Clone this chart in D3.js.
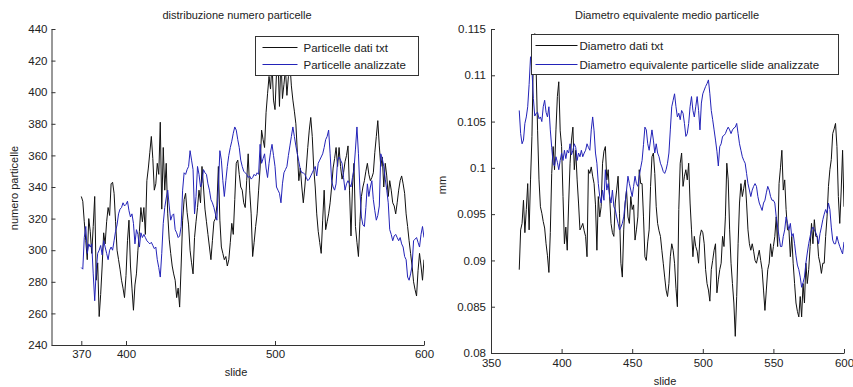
<!DOCTYPE html>
<html>
<head>
<meta charset="utf-8">
<script src="https://cdn.jsdelivr.net/npm/d3@7"></script>
<style>
  body { margin: 0; background: #fff; }
  svg text { font-family: "Liberation Sans", Arial, sans-serif; fill: #222; }
</style>
</head>
<body>
<svg id="fig" width="853" height="387"></svg>
<script>
// Slide numbers shared by every series
const slides = d3.range(370, 601);

// Particle counts per slide
const particelleTxt = [
  334, 331, 318, 306, 294, 320, 312, 298, 315, 334,
  281, 292, 258, 272, 290, 311, 304, 318, 327, 322,
  342, 343, 336, 318, 300, 294, 288, 281, 276, 270,
  284, 306, 319, 290, 276, 262, 278, 285, 300, 312,
  327, 318, 327, 310, 344, 352, 362, 372, 358, 338,
  342, 355, 348, 381, 326, 365, 338, 355, 323, 307,
  298, 290, 285, 281, 270, 276, 264, 290, 319, 332,
  336, 324, 316, 300, 292, 285, 308, 318, 327, 338,
  330, 353, 340, 326, 318, 310, 302, 294, 306, 318,
  320, 328, 353, 319, 302, 298, 294, 296, 290, 294,
  305, 317, 310, 332, 355, 357, 348, 340, 338, 330,
  327, 344, 361, 338, 323, 296, 305, 315, 323, 338,
  352, 376, 370, 365, 387, 399, 410, 402, 418, 395,
  389, 412, 420, 391, 422, 396, 405, 415, 398, 410,
  418, 404, 395, 388, 380, 362, 344, 352, 340, 330,
  340, 352, 365, 376, 384, 372, 352, 340, 323, 312,
  305, 298, 319, 338, 313, 318, 323, 330, 340, 352,
  358, 365, 353, 365, 353, 345, 349, 356, 360, 366,
  338, 309, 340, 355, 315, 305, 296, 318, 334, 340,
  344, 350, 355, 348, 344, 346, 349, 362, 372, 382,
  366, 353, 359, 340, 355, 347, 334, 344, 338, 330,
  328, 323, 330, 338, 344, 347, 342, 336, 323, 315,
  306, 298, 290, 280, 275, 271, 287, 298, 290, 281,
  294
];
const particelleAnalizzate = [
  289, 288, 308, 315, 298, 304, 302, 304, 285, 268,
  287, 298, 300, 303, 297, 306, 302, 298, 294, 300,
  302, 300, 306, 312, 316, 323, 326, 327, 330, 328,
  329, 331, 325, 321, 323, 317, 304, 313, 310, 302,
  311, 308, 310, 308, 306, 305, 304, 305, 303, 301,
  302, 294, 289, 283, 298, 317, 327, 333, 338, 328,
  319, 322, 323, 313, 311, 308, 309, 315, 338, 349,
  348, 351, 353, 363, 357, 351, 323, 334, 353, 348,
  340, 343, 351, 349, 348, 342, 338, 332, 330, 327,
  323, 319, 340, 363, 357, 344, 334, 344, 353, 360,
  365, 369, 374, 378, 376, 370, 365, 357, 353, 350,
  349, 348, 346, 347, 345, 346, 348, 347, 349, 348,
  367, 355, 358, 361, 352, 346, 355, 362, 367, 360,
  353, 340, 338, 336, 330, 342, 349, 351, 353, 360,
  366, 372, 378, 372, 366, 361, 356, 351, 349, 349,
  348, 346, 344, 345, 347, 349, 351, 353, 347, 355,
  357, 359, 361, 365, 370, 372, 376, 361, 344, 340,
  338, 342, 357, 359, 357, 355, 346, 338, 342, 344,
  342, 340, 346, 351, 364, 378, 361, 338, 321, 316,
  315, 327, 342, 334, 340, 344, 332, 325, 319, 322,
  328, 361, 358, 353, 345, 338, 330, 313, 310, 306,
  309, 310, 308, 306, 308, 304, 302, 296, 294, 283,
  281, 285, 290, 306, 307, 308, 305, 302, 310, 315,
  308
];

// Mean equivalent diameter per slide (mm)
const diametroTxt = [
  .0890, .0933, .0940, .0965, .0930, .0955, .0983, .0933, .0987, .1034,
  .1120, .1145, .1105, .1040, .0987, .0958, .0951, .0942, .0935, .0918,
  .0905, .0887, .0930, .0994, .1023, .0998, .1041, .1077, .1093, .1040,
  .1023, .0969, .0918, .0936, .0911, .0962, .1005, .1030, .1044, .0998,
  .1019, .0987, .0962, .0933, .0936, .0940, .0932, .0926, .0904, .0998,
  .0994, .1001, .0991, .0983, .0960, .0911, .0969, .0947, .0958, .1005,
  .1018, .1023, .0987, .0998, .0969, .0940, .0930, .0926, .0962, .0976,
  .0991, .0951, .0897, .0882, .0933, .0962, .0976, .0947, .0940, .0969,
  .0955, .0960, .0922, .0933, .0947, .0998, .0983, .0983, .0947, .0904,
  .0900, .0920, .0933, .0980, .1012, .1016, .0994, .0958, .0940, .0932,
  .0926, .0911, .0897, .0882, .0868, .0861, .0875, .0904, .0918, .0911,
  .0897, .0870, .0850, .0955, .1005, .1016, .0980, .0991, .0998, .0987,
  .1005, .0962, .0933, .0904, .0926, .0915, .0910, .0897, .0926, .0933,
  .0930, .0918, .0890, .0875, .0868, .0856, .0890, .0900, .0911, .0918,
  .0865, .0879, .0890, .0897, .0926, .0915, .0947, .1005, .0987, .0933,
  .0897, .0875, .0854, .0818, .0861, .0918, .0962, .0983, .0969, .0978,
  .0987, .0962, .0933, .0918, .0911, .0918, .0910, .0900, .0897, .0904,
  .0911, .0900, .0890, .0868, .0846, .0868, .0890, .0897, .0918, .0904,
  .0915, .0926, .0947, .0915, .0983, .1000, .1019, .0976, .0987, .0955,
  .0933, .0933, .0904, .0926, .0897, .0875, .0854, .0845, .0839, .0861,
  .0839, .0875, .0854, .0897, .0875, .0890, .0915, .0940, .0918, .0944,
  .0926, .0926, .0904, .0897, .0886, .0897, .0897, .0926, .0947, .0980,
  .0998, .1009, .1037, .1042, .1048, .1023, .0969, .0940, .0975, .1019,
  .0958
];
const diametroAnalizzate = [
  .1062, .1037, .1026, .1030, .1048, .1055, .1066, .1090, .1120, .1106,
  .1075, .1056, .1059, .1060, .1053, .1055, .1050, .1066, .1073, .1060,
  .1055, .1066, .1041, .1022, .1005, .1002, .1012, .1006, .0998, .1008,
  .1016, .1008, .1019, .1010, .1019, .1016, .1026, .1014, .1019, .1026,
  .1022, .1008, .1016, .1012, .1019, .1012, .1016, .1019, .1026, .1022,
  .1019, .1041, .1055, .1040, .1016, .1005, .0983, .0969, .0962, .0976,
  .0965, .0998, .0976, .0983, .0969, .0962, .0976, .0958, .0955, .0947,
  .0940, .0933, .0936, .0940, .0947, .0962, .0976, .0991, .0983, .0976,
  .0969, .0980, .0991, .0983, .0980, .0991, .1000, .1008, .1025, .1044,
  .1041, .1026, .1019, .1030, .1041, .1030, .1016, .1026, .1016, .1012,
  .1005, .1001, .0996, .0994, .0998, .1005, .1016, .1041, .1066, .1073,
  .1080, .1066, .1055, .1059, .1052, .1062, .1059, .1048, .1034, .1037,
  .1048, .1066, .1077, .1062, .1055, .1066, .1077, .1062, .1041, .1070,
  .1080, .1084, .1088, .1091, .1095, .1080, .1062, .1052, .1041, .1030,
  .1018, .1002, .1023, .1026, .1034, .1035, .1037, .1041, .1044, .1041,
  .1037, .1041, .1043, .1044, .1048, .1037, .1026, .1019, .1012, .1008,
  .1005, .0994, .0983, .0976, .0969, .0976, .0980, .0983, .0980, .0969,
  .0962, .0958, .0954, .0962, .0965, .0973, .0980, .0976, .0969, .0965,
  .0965, .0962, .0947, .0936, .0926, .0915, .0915, .0926, .0933, .0947,
  .0940, .0933, .0940, .0926, .0929, .0918, .0905, .0895, .0890, .0882,
  .0871, .0876, .0882, .0897, .0908, .0918, .0926, .0933, .0936, .0933,
  .0930, .0926, .0918, .0929, .0936, .0944, .0950, .0955, .0951, .0962,
  .0955, .0936, .0922, .0918, .0918, .0926, .0920, .0915, .0911, .0907,
  .0920
];

// Axis ticks
const leftXTicks = [370, 400, 500, 600];
const leftYTicks = [240, 260, 280, 300, 320, 340, 360, 380, 400, 420, 440];
const rightXTicks = [350, 400, 450, 500, 550, 600];
const rightYTicks = [0.08, 0.085, 0.09, 0.095, 0.1, 0.105, 0.11, 0.115];

const BLACK = "#111";
const BLUE = "#2323b8";
const AXIS = "#333";

const svg = d3.select("#fig");

function drawPanel(cfg) {
  const x = d3.scaleLinear().domain(cfg.xDomain).range(cfg.xRange);
  const y = d3.scaleLinear().domain(cfg.yDomain).range(cfg.yRange);
  const g = svg.append("g");

  const clipId = cfg.id + "-clip";
  g.append("clipPath").attr("id", clipId).append("rect")
    .attr("x", cfg.xRange[0]).attr("y", cfg.yRange[1])
    .attr("width", cfg.xRange[1] - cfg.xRange[0])
    .attr("height", cfg.yRange[0] - cfg.yRange[1]);

  const line = d3.line().x((d, i) => x(slides[i])).y(d => y(d));
  const plot = g.append("g").attr("clip-path", `url(#${clipId})`);
  cfg.series.forEach(s => {
    plot.append("path").datum(s.values)
      .attr("fill", "none").attr("stroke", s.color)
      .attr("stroke-width", 1).attr("stroke-linejoin", "miter")
      .attr("d", line);
  });

  const fmt = cfg.fmt;
  const yAxis = d3.axisLeft(y).tickValues(cfg.yTicks).tickFormat(fmt)
    .tickSizeInner(-4).tickSizeOuter(0).tickPadding(cfg.yPad);
  const xAxis = d3.axisBottom(x).tickValues(cfg.xTicks).tickFormat(d3.format("d"))
    .tickSizeInner(-4).tickSizeOuter(0).tickPadding(cfg.xPad);

  const ya = g.append("g").attr("transform", `translate(${cfg.xRange[0]},0)`).call(yAxis);
  const xa = g.append("g").attr("transform", `translate(0,${cfg.yRange[0]})`).call(xAxis);
  [ya, xa].forEach(a => {
    a.select(".domain").attr("stroke", AXIS);
    a.selectAll(".tick line").attr("stroke", AXIS);
    a.selectAll(".tick text").attr("font-size", 11.5).attr("fill", "#222")
      .attr("font-family", '"Liberation Sans", Arial, sans-serif');
  });

  // title and axis labels
  g.append("text").attr("x", cfg.titleX).attr("y", 19)
    .attr("text-anchor", "middle").attr("font-size", 11).text(cfg.title);
  g.append("text").attr("x", cfg.xLabelX).attr("y", cfg.xLabelY)
    .attr("text-anchor", "middle").attr("font-size", 11).text("slide");
  g.append("text")
    .attr("transform", `translate(${cfg.yLabelX},${cfg.yLabelY}) rotate(-90)`)
    .attr("text-anchor", "middle").attr("font-size", 11).text(cfg.yLabel);

  // legend
  const L = cfg.legend;
  const lg = g.append("g");
  lg.append("rect").attr("x", L.x).attr("y", L.y).attr("width", L.w).attr("height", L.h)
    .attr("fill", "#fff").attr("stroke", AXIS).attr("stroke-width", 1);
  cfg.series.forEach((s, i) => {
    const yy = L.y + L.rows[i];
    lg.append("line").attr("x1", L.x + L.lx1).attr("x2", L.x + L.lx2)
      .attr("y1", yy).attr("y2", yy).attr("stroke", s.color).attr("stroke-width", 1);
    lg.append("text").attr("x", L.x + L.tx).attr("y", yy + 4)
      .attr("font-size", 11.5).text(s.name);
  });
}

drawPanel({
  id: "left",
  xDomain: [350, 600], xRange: [51.5, 424],
  yDomain: [240, 440], yRange: [345, 29],
  xTicks: leftXTicks, yTicks: leftYTicks,
  fmt: d3.format("d"), yPad: 4, xPad: 5,
  title: "distribuzione numero particelle", titleX: 237,
  xLabelX: 236, xLabelY: 376,
  yLabel: "numero particelle", yLabelX: 18, yLabelY: 188,
  series: [
    { name: "Particelle dati txt", values: particelleTxt, color: BLACK },
    { name: "Particelle analizzate", values: particelleAnalizzate, color: BLUE }
  ],
  legend: { x: 255.5, y: 36.5, w: 163, h: 39, rows: [11, 28], lx1: 7, lx2: 42, tx: 48 }
});

drawPanel({
  id: "right",
  xDomain: [350, 600], xRange: [491, 844],
  yDomain: [0.08, 0.115], yRange: [353, 29],
  xTicks: rightXTicks, yTicks: rightYTicks,
  fmt: d => String(+d.toFixed(3)), yPad: 5, xPad: 6,
  title: "Diametro equivalente medio particelle", titleX: 667,
  xLabelX: 665, xLabelY: 385,
  yLabel: "mm", yLabelX: 446, yLabelY: 185,
  series: [
    { name: "Diametro dati txt", values: diametroTxt, color: BLACK },
    { name: "Diametro equivalente particelle slide analizzate", values: diametroAnalizzate, color: BLUE }
  ],
  legend: { x: 531.5, y: 34.5, w: 307, h: 40, rows: [11, 30], lx1: 4, lx2: 46, tx: 48 }
});
</script>
</body>
</html>
